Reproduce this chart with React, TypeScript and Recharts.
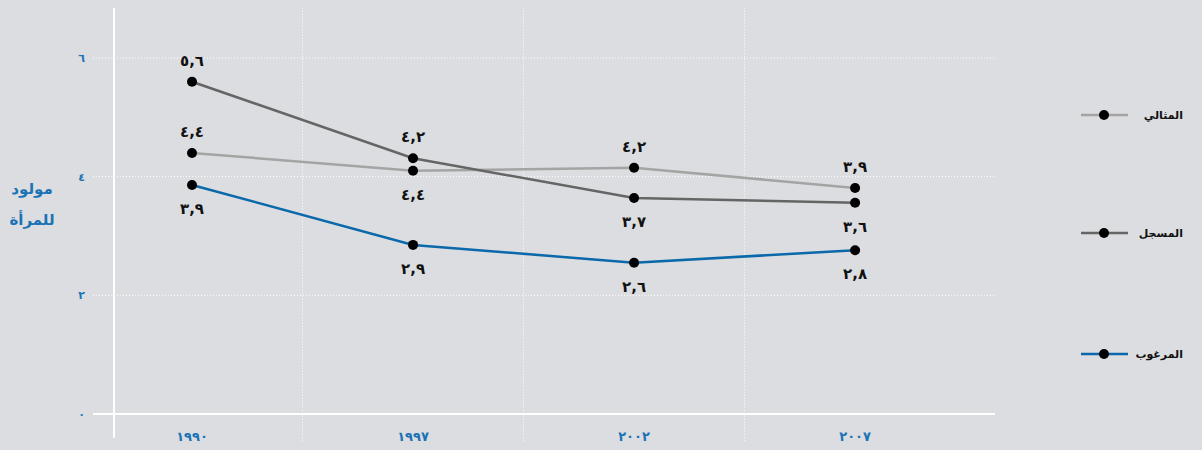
import React from 'react';
import { LineChart, Line, XAxis, YAxis, CartesianGrid, ReferenceLine, LabelList, Legend } from 'recharts';

const years = ['١٩٩٠', '١٩٩٧', '٢٠٠٢', '٢٠٠٧'];
const idealValues = [4.4, 4.1, 4.15, 3.81];
const recordedValues = [5.6, 4.31, 3.64, 3.56];
const desiredValues = [3.86, 2.85, 2.55, 2.76];
const idealLabels = ['٤,٤', '٤,٤', '٤,٢', '٣,٩'];
const recordedLabels = ['٥,٦', '٤,٢', '٣,٧', '٣,٦'];
const desiredLabels = ['٣,٩', '٢,٩', '٢,٦', '٢,٨'];
const idealLabelSide = ['top', 'bottom', 'top', 'top'];
const recordedLabelSide = ['top', 'top', 'bottom', 'bottom'];
const desiredLabelSide = ['bottom', 'bottom', 'bottom', 'bottom'];
const yTicks = [0, 2, 4, 6];
const yTickLabels = ['٠', '٢', '٤', '٦'];
const seriesNames = ['المثالي', 'المسجل', 'المرغوب'];
const yAxisTitle = ['مولود', 'للمرأة'];

const FONT = '"DejaVu Sans", sans-serif';
const BG = '#dcdde0';
const BLUE_TEXT = '#1a73b5';
const COLORS = ['#a4a4a4', '#656565', '#0a69aa'];

const data = years.map((y, i) => ({
  idx: i,
  year: y,
  ideal: idealValues[i],
  recorded: recordedValues[i],
  desired: desiredValues[i],
}));

const makeLabel = (labels: string[], sides: string[]) => (props: any) => {
  const { x, y, index } = props;
  const dy = sides[index] === 'top' ? -16 : 29;
  return (
    <text x={x} y={y + dy} textAnchor="middle" fontSize={15} fontWeight="bold" fill="#111" fontFamily={FONT}>
      {labels[index]}
    </text>
  );
};

const legendRows = [20, 138, 259];
const renderLegend = () => (
  <svg width={190} height={280} style={{ display: 'block' }}>
    {seriesNames.map((n, i) => (
      <g key={n}>
        <line x1={69} x2={116} y1={legendRows[i]} y2={legendRows[i]} stroke={COLORS[i]} strokeWidth={2.5} />
        <circle cx={92} cy={legendRows[i]} r={5} fill="#000" />
        <text x={171} y={legendRows[i] + 4} textAnchor="end" fontSize={11} fontWeight="bold" fill="#111" fontFamily={FONT}>
          {n}
        </text>
      </g>
    ))}
  </svg>
);

const renderYTitle = () => (
  <g>
    <text x={24} y={186} textAnchor="middle" fontSize={15} fontWeight="bold" fill={BLUE_TEXT} fontFamily={FONT}>
      {yAxisTitle[0]}
    </text>
    <text x={24} y={217} textAnchor="middle" fontSize={15} fontWeight="bold" fill={BLUE_TEXT} fontFamily={FONT}>
      {yAxisTitle[1]}
    </text>
  </g>
);

export default function App() {
  return (
    <div style={{ position: 'fixed', left: 0, top: 0, width: 1202, height: 450, background: BG }}>
      <div style={{ position: 'absolute', left: 8, top: 8 }}>
        <LineChart width={1194} height={442} data={data} margin={{ top: 50, right: 17, bottom: 0, left: 0 }}>
          <CartesianGrid vertical={false} stroke="#ffffff" strokeDasharray="1 2" />
          <XAxis
            type="number"
            dataKey="idx"
            domain={[-0.448, 3.633]}
            ticks={[0, 1, 2, 3]}
            tickFormatter={(v: number) => years[v]}
            axisLine={{ stroke: '#ffffff', strokeWidth: 2 }}
            tickLine={false}
            tickMargin={12}
            height={36}
            tick={{ fill: BLUE_TEXT, fontSize: 13, fontWeight: 'bold', fontFamily: FONT }}
          />
          <YAxis
            type="number"
            domain={[0, 6]}
            ticks={yTicks}
            tickFormatter={(v: number) => yTickLabels[yTicks.indexOf(v)]}
            axisLine={false}
            tickLine={false}
            width={85}
            tick={{ fill: BLUE_TEXT, fontSize: 11, fontWeight: 'bold', fontFamily: FONT }}
            label={{ content: renderYTitle }}
          />
          <ReferenceLine
            segment={[{ x: -0.353, y: -0.4 }, { x: -0.353, y: 6.86 }]}
            stroke="#ffffff"
            strokeWidth={2}
            ifOverflow="visible"
          />
          {[0.5, 1.5, 2.5].map((v) => (
            <ReferenceLine
              key={v}
              segment={[{ x: v, y: -0.45 }, { x: v, y: 6.9 }]}
              stroke="#ffffff"
              strokeDasharray="1 2"
              ifOverflow="visible"
            />
          ))}
          <Legend
            layout="vertical"
            align="right"
            verticalAlign="top"
            content={renderLegend}
            wrapperStyle={{ position: 'absolute', top: 87, right: 0, width: 190, height: 280 }}
          />
          <Line type="linear" dataKey="ideal" name={seriesNames[0]} stroke={COLORS[0]} strokeWidth={2.5}
            dot={{ r: 5, fill: '#000', stroke: 'none' }} isAnimationActive={false}>
            <LabelList dataKey="ideal" content={makeLabel(idealLabels, idealLabelSide)} />
          </Line>
          <Line type="linear" dataKey="recorded" name={seriesNames[1]} stroke={COLORS[1]} strokeWidth={2.5}
            dot={{ r: 5, fill: '#000', stroke: 'none' }} isAnimationActive={false}>
            <LabelList dataKey="recorded" content={makeLabel(recordedLabels, recordedLabelSide)} />
          </Line>
          <Line type="linear" dataKey="desired" name={seriesNames[2]} stroke={COLORS[2]} strokeWidth={2.5}
            dot={{ r: 5, fill: '#000', stroke: 'none' }} isAnimationActive={false}>
            <LabelList dataKey="desired" content={makeLabel(desiredLabels, desiredLabelSide)} />
          </Line>
        </LineChart>
      </div>
    </div>
  );
}
